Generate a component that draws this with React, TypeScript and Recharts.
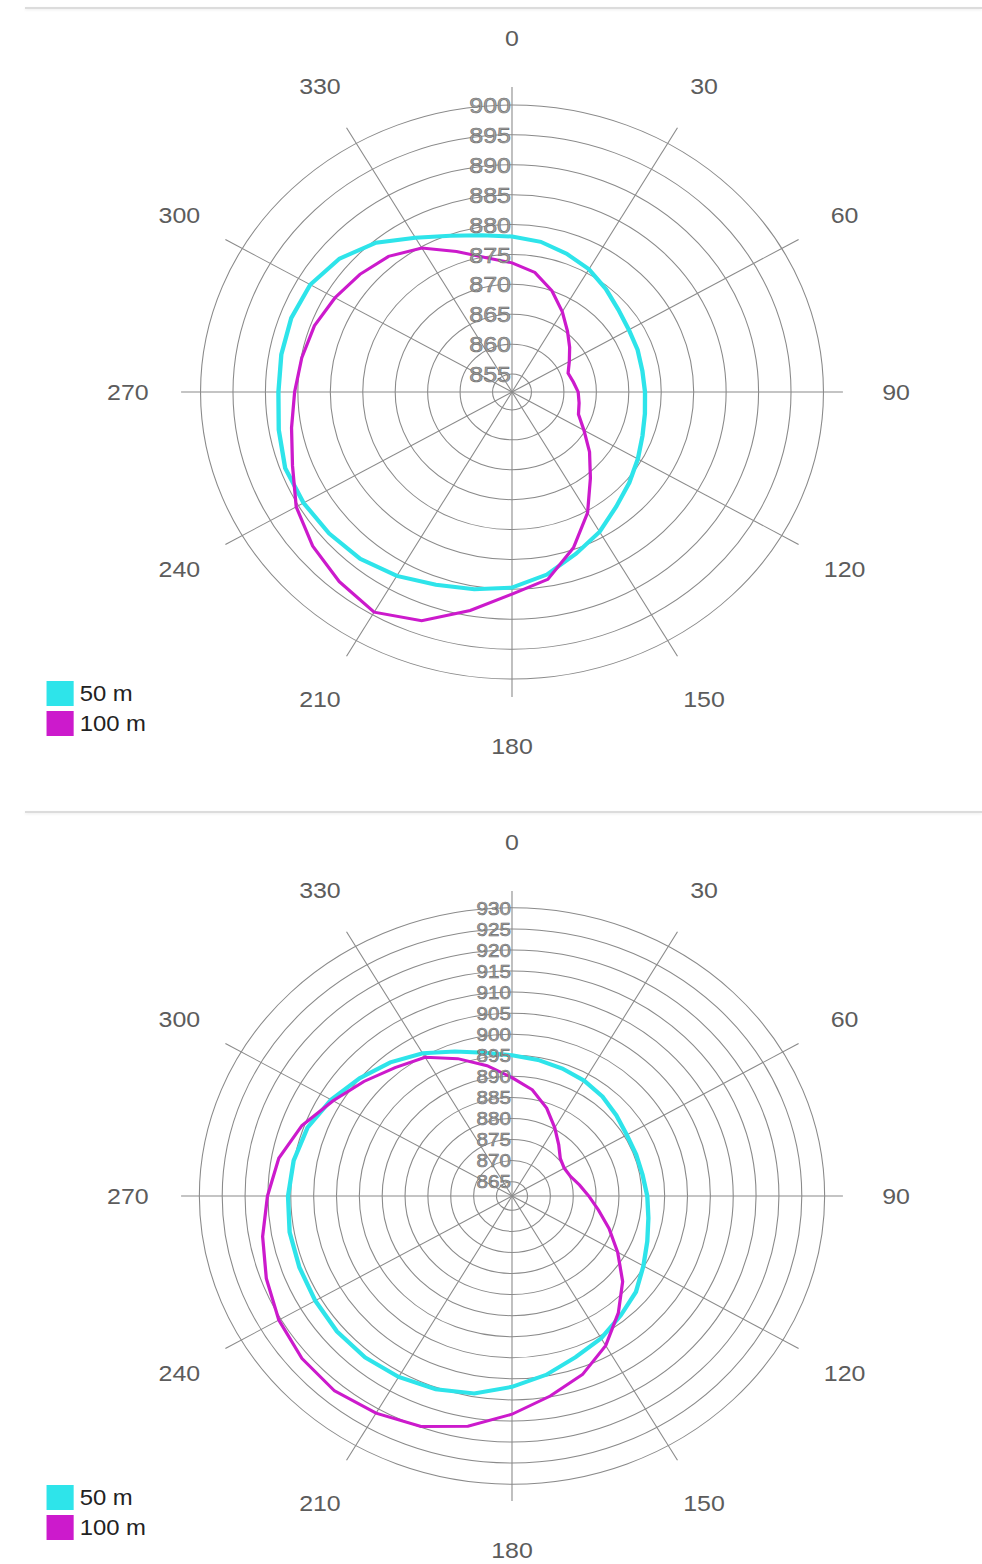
import React from 'react';
import { RadarChart, Radar, PolarGrid, PolarAngleAxis, PolarRadiusAxis, Legend } from 'recharts';

// Bearings (degrees, clockwise from north) at which values were sampled
const bearings = [
  0, 10, 20, 30, 40, 50, 60, 70, 80, 90, 100, 110, 120, 130, 140, 150, 160, 170,
  180, 190, 200, 210, 220, 230, 240, 250, 260, 270, 280, 290, 300, 310, 320, 330, 340, 350,
];
const bearingTicks = [0, 30, 60, 90, 120, 150, 180, 210, 240, 270, 300, 330];

// Upper panel
const upper50m = [
  878.0, 877.5, 876.6, 875.7, 874.5, 873.4, 872.8, 872.6, 872.4, 872.5, 872.8, 873.4,
  874.4, 875.6, 877.0, 879.0, 880.8, 883.0, 884.7, 885.5, 886.3, 887.5, 888.4, 888.8,
  889.1, 889.2, 888.5, 888.0, 888.1, 888.2, 887.9, 886.7, 884.6, 881.8, 879.8, 878.6,
];
const upper100m = [
  873.6, 872.3, 870.0, 867.5, 865.3, 863.6, 862.2, 861.2, 861.6, 862.2, 862.5, 862.9,
  864.8, 867.6, 870.8, 875.3, 879.7, 883.8, 885.8, 889.1, 892.7, 894.5, 893.4, 892.1,
  890.4, 888.0, 886.5, 885.5, 884.9, 884.4, 883.5, 882.6, 881.6, 879.8, 877.0, 874.8,
];
const upperRangeTicks = [855, 860, 865, 870, 875, 880, 885, 890, 895, 900];
const upperDomain = [852.35, 902.85];

// Lower panel
const lower50m = [
  895.0, 894.4, 893.8, 893.2, 892.4, 891.4, 890.6, 890.5, 890.6, 891.2, 891.9, 893.1,
  894.8, 897.0, 898.6, 900.6, 902.3, 904.7, 906.9, 909.2, 910.4, 911.2, 911.6, 911.6,
  911.3, 911.1, 911.0, 910.6, 910.1, 909.2, 907.3, 905.1, 903.0, 900.7, 898.1, 896.1,
];
const lower100m = [
  889.7, 887.2, 883.8, 880.3, 877.5, 875.4, 874.8, 875.2, 876.6, 878.4, 880.8, 884.2,
  888.3, 893.2, 897.8, 902.6, 906.7, 909.8, 913.4, 917.1, 919.8, 921.1, 922.0, 921.6,
  920.5, 918.8, 917.0, 915.1, 913.4, 910.5, 906.8, 903.9, 901.4, 899.6, 896.3, 893.0,
];
const lowerRangeTicks = [865, 870, 875, 880, 885, 890, 895, 900, 905, 910, 915, 920, 925, 930];
const lowerDomain = [861.6, 933.5];

const seriesKeys = ['m50', 'm100'];
const seriesNames = ['50 m', '100 m'];
const seriesColors = ['#2ee4ea', '#cc1acc'];
const seriesWidths = [4, 3];

const FONT = '"Liberation Sans", Arial, sans-serif';
const STRETCH = 1.085;
const CX = 512;

const buildRows = (a: number[], b: number[]) =>
  bearings.map((bearing, i) => ({ bearing, m50: a[i], m100: b[i] }));

const AngleTick = (props: any) => {
  const { x, y, payload } = props;
  return (
    <text x={x} y={y} textAnchor="middle" dominantBaseline="central" fill="#5c5c5c" fontSize={23} fontFamily={FONT}>
      {payload.value}
    </text>
  );
};

const makeRangeTick = (size: number) => (props: any) => {
  const { x, y, payload } = props;
  return (
    <text
      x={x - 1}
      y={y}
      textAnchor="end"
      dominantBaseline="central"
      fill="#a2a2a2"
      stroke="#6c6c6c"
      strokeWidth={0.6}
      fontSize={size}
      fontFamily={FONT}
    >
      {payload.value}
    </text>
  );
};

const LegendBox = (props: any) => {
  const payload = [...(props.payload || [])].sort(
    (a: any, b: any) => seriesKeys.indexOf(a.dataKey) - seriesKeys.indexOf(b.dataKey),
  );
  return (
    <div style={{ fontFamily: FONT }}>
      {payload.map((entry: any) => {
        const idx = seriesKeys.indexOf(entry.dataKey);
        const color = idx >= 0 ? seriesColors[idx] : entry.color;
        return (
          <div key={String(entry.dataKey)} style={{ display: 'flex', alignItems: 'center', height: 30 }}>
            <span style={{ display: 'inline-block', width: 25, height: 25, background: color, marginRight: 6 }} />
            <span style={{ fontSize: 22, color: '#222', lineHeight: '25px' }}>{entry.value}</span>
          </div>
        );
      })}
    </div>
  );
};

type PanelProps = {
  top: number;
  height: number;
  rows: any[];
  rangeTicks: number[];
  domain: number[];
  labelSize: number;
};

const PolarPanel = ({ top, height, rows, rangeTicks, domain, labelSize }: PanelProps) => (
  <>
    <div
      style={{
        position: 'absolute',
        left: 25,
        top: top + 7,
        width: 957,
        height: 2,
        background: '#dcdcdc',
        boxShadow: '0 1px 3px rgba(0,0,0,0.08)',
      }}
    />
    <div
      style={{
        position: 'absolute',
        left: 0,
        top,
        width: 982,
        height,
        transform: `scaleX(${STRETCH})`,
        transformOrigin: `${CX}px 0px`,
      }}
    >
      <RadarChart
        width={982}
        height={height}
        data={rows}
        cx={CX}
        cy={392}
        innerRadius={0}
        outerRadius={305}
        margin={{ top: 0, right: 0, bottom: 0, left: 0 }}
      >
        <PolarGrid gridType="circle" stroke="#8a8a8a" strokeWidth={1} />
        <PolarAngleAxis
          dataKey="bearing"
          type="number"
          domain={[0, 360]}
          ticks={bearingTicks}
          tick={AngleTick}
          tickLine={false}
          axisLine={false}
          tickSize={49}
        />
        {seriesKeys.map((key, i) => (
          <Radar
            key={key}
            dataKey={key}
            name={seriesNames[i]}
            stroke={seriesColors[i]}
            strokeWidth={seriesWidths[i]}
            fill="none"
            fillOpacity={0}
            dot={false}
            isAnimationActive={false}
          />
        ))}
        <PolarRadiusAxis
          angle={90}
          type="number"
          domain={domain as [number, number]}
          allowDataOverflow
          ticks={rangeTicks}
          tick={makeRangeTick(labelSize)}
          tickLine={false}
          axisLine={false}
        />
        <Legend
          layout="horizontal"
          verticalAlign="middle"
          align="left"
          content={LegendBox}
          wrapperStyle={{ position: 'absolute', left: 82.5, top: 678.5, width: 'auto', height: 'auto' }}
        />
      </RadarChart>
    </div>
  </>
);

export default function App() {
  return (
    <div
      style={{
        position: 'absolute',
        left: 0,
        top: 0,
        width: 982,
        height: 1564,
        overflow: 'hidden',
        background: '#ffffff',
      }}
    >
      <PolarPanel
        top={0}
        height={800}
        rows={buildRows(upper50m, upper100m)}
        rangeTicks={upperRangeTicks}
        domain={upperDomain}
        labelSize={23}
      />
      <PolarPanel
        top={804}
        height={760}
        rows={buildRows(lower50m, lower100m)}
        rangeTicks={lowerRangeTicks}
        domain={lowerDomain}
        labelSize={19}
      />
    </div>
  );
}
